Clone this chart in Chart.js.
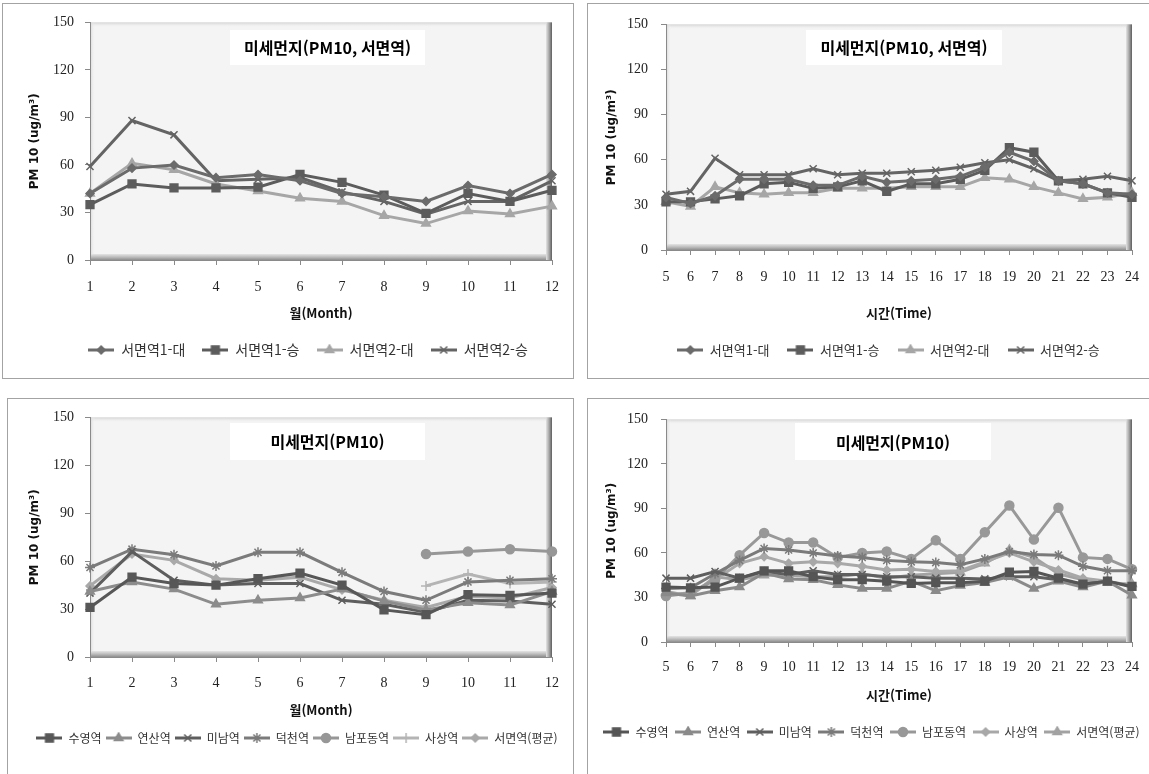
<!DOCTYPE html>
<html lang="ko">
<head>
<meta charset="utf-8">
<title>미세먼지(PM10)</title>
<script src="https://cdn.jsdelivr.net/npm/chart.js@4.4.1/dist/chart.umd.min.js"></script>
<style>
  html, body { margin: 0; padding: 0; background: #fff; width: 1149px; height: 774px; overflow: hidden; }
  .frame { position: absolute; border: 1px solid #a3a3a3; box-sizing: border-box; }
  canvas { position: absolute; }
</style>
</head>
<body>
<div class="frame" style="left:2px; top:3px; width:572px; height:376px"></div>
<div class="frame" style="left:587px; top:3px; width:600px; height:376px"></div>
<div class="frame" style="left:7px; top:398px; width:567px; height:400px"></div>
<div class="frame" style="left:587px; top:398px; width:600px; height:400px"></div>
<canvas id="monthSeomyeon"></canvas>
<canvas id="hourSeomyeon"></canvas>
<canvas id="monthStations"></canvas>
<canvas id="hourStations"></canvas>
<script>
// x축 (월, 시간) 과 y축 눈금
const months = ['1', '2', '3', '4', '5', '6', '7', '8', '9', '10', '11', '12'];
const hours = ['5', '6', '7', '8', '9', '10', '11', '12', '13', '14', '15', '16', '17', '18', '19', '20', '21', '22', '23', '24'];
const yTickValues = [0, 30, 60, 90, 120, 150];

// 서면역 측정지점 이름
const seomyeonPoints = ['서면역1-대', '서면역1-승', '서면역2-대', '서면역2-승'];

// 서면역 월별 PM10 (ug/m3)
const s1DaeMonth   = [42, 58, 60, 52, 54, 50, 42, 40, 37, 47, 42, 54];
const s1SeungMonth = [35, 48, 45.5, 45.5, 46, 54, 49, 41, 29.5, 42, 37, 44];
const s2DaeMonth   = [42, 61, 57, 48, 43.5, 39, 37, 28, 23, 31, 29, 34];
const s2SeungMonth = [59, 88, 79, 50, 51, 52, 43, 37, 29, 37, 37, 50];

// 서면역 시간대별 PM10
const s1DaeHour   = [35, 31, 36, 47, 47, 47, 43, 43, 49, 45, 46, 47, 49, 55, 65, 59, 46, 44, 38, 37];
const s1SeungHour = [32, 32, 34, 36, 44, 45, 41, 42, 46, 39, 44, 44, 47, 53, 68, 65, 46, 44, 38, 35];
const s2DaeHour   = [32, 29, 42, 38, 37, 38, 38, 41, 41, 41, 42, 42, 42, 48, 47, 42, 38, 34, 35, 38];
const s2SeungHour = [37, 39, 61, 50, 50, 50, 54, 50, 51, 51, 52, 53, 55, 58, 60, 54, 46, 47, 49, 46];

// 역별 이름
const stations = ['수영역', '연산역', '미남역', '덕천역', '남포동역', '사상역', '서면역(평균)'];

// 역별 월별 PM10 (남포동역, 사상역은 9월부터)
const suyeongMonth  = [31, 50, 46, 45, 49, 52.5, 45, 29.5, 26.5, 39, 38.5, 40];
const yeonsanMonth  = [41, 47, 42.5, 33, 35.5, 37, 42.5, 35, 29.5, 34, 32.5, 41];
const minamMonth    = [40, 66, 48, 45, 46, 46, 35.5, 33, 28, 35.5, 35, 33];
const deokcheonMonth = [56, 67.5, 64, 57, 65.5, 65.5, 53, 41, 35.5, 47, 48, 49];
const nampoMonth    = [null, null, null, null, null, null, null, null, 64.5, 66, 67.5, 66];
const sasangMonth   = [null, null, null, null, null, null, null, null, 44.5, 52, 46, 47];
const seomyeonAvgMonth = [44.5, 64.5, 60.5, 49, 48, 50, 42, 35.5, 31, 38, 37, 43.5];

// 역별 시간대별 PM10
const suyeongHour  = [37, 36.5, 37, 43, 48, 48, 44, 42, 42, 41, 39.5, 40, 40, 41, 47, 47.5, 43, 39, 41, 37.5];
const yeonsanHour  = [33, 31, 34.5, 37, 46.5, 42.5, 42, 38.5, 36, 36, 41, 34.5, 38, 40, 44, 36, 41, 37, 41, 31.5];
const minamHour    = [43, 43, 47.5, 43, 47.5, 45.5, 48, 45.5, 45.5, 44, 44, 43, 43, 42.5, 44, 44, 42, 39, 41, 37];
const deokcheonHour = [36, 36.5, 46, 55, 63, 62, 60, 58, 57, 55, 54, 53.5, 52, 56, 61, 59, 58.5, 51, 48, 48];
const nampoHour    = [31, 33, 42, 58.5, 73.5, 67, 67, 57, 60, 61, 56, 68.5, 56, 74, 92, 69, 90.5, 57, 56, 49];
const sasangHour   = [32, 33, 42, 53, 57.5, 53, 54, 53, 51, 48.5, 49, 47.5, 48, 54, 60, 54, 48.5, 43, 41, 38];
const seomyeonAvgHour = [34, 31, 44, 42, 45, 45, 44, 44, 46, 43, 45, 46, 47, 53, 62, 57, 46, 42, 40, 39];

// 계열 스타일
const seomyeonStyles = [
  { color: '#6b6b6b', point: 'rectRot', radius: 4 },
  { color: '#5c5c5c', point: 'rect', radius: 5.5 },
  { color: '#a6a6a6', point: 'triangle', radius: 5 },
  { color: '#646464', point: 'crossRot', radius: 5 }
];
const monthStationStyles = [
  { color: '#575757', point: 'rect', radius: 5.5 },
  { color: '#8c8c8c', point: 'triangle', radius: 5 },
  { color: '#5e5e5e', point: 'crossRot', radius: 5 },
  { color: '#7b7b7b', point: 'star', radius: 5 },
  { color: '#979797', point: 'circle', radius: 4.5 },
  { color: '#b4b4b4', point: 'cross', radius: 5 },
  { color: '#a9a9a9', point: 'rectRot', radius: 4 }
];
const hourStationStyles = [
  { color: '#555555', point: 'rect', radius: 5.5 },
  { color: '#8a8a8a', point: 'triangle', radius: 5 },
  { color: '#5f5f5f', point: 'crossRot', radius: 5 },
  { color: '#7a7a7a', point: 'star', radius: 5 },
  { color: '#989898', point: 'circle', radius: 4.5 },
  { color: '#a8a8a8', point: 'rectRot', radius: 4 },
  { color: '#a2a2a2', point: 'triangle', radius: 5 }
];

const KR = "'Noto Sans CJK KR', sans-serif";
const SERIF = "'Liberation Serif', serif";

// 범례용 선+마커 아이콘
function legendIcon(st) {
  const c = document.createElement('canvas');
  c.width = 26; c.height = 12;
  const g = c.getContext('2d');
  g.strokeStyle = st.color; g.fillStyle = st.color; g.lineWidth = 3;
  g.beginPath(); g.moveTo(0, 6); g.lineTo(26, 6); g.stroke();
  g.lineWidth = 1.5;
  Chart.helpers.drawPoint(g, { pointStyle: st.point, radius: st.radius, borderWidth: 1.5, rotation: 0 }, 13, 6);
  return c;
}

// 회색 입체 플롯 영역
const plotFrame = {
  id: 'plotFrame',
  beforeDraw(chart) {
    const { ctx, chartArea: a } = chart;
    const w = a.right - a.left, h = a.bottom - a.top;
    ctx.save();
    ctx.fillStyle = '#f4f4f4';
    ctx.fillRect(a.left, a.top, w, h);
    let g = ctx.createLinearGradient(0, a.top, 0, a.top + 5);
    g.addColorStop(0, '#d4d4d4'); g.addColorStop(1, 'rgba(244,244,244,0)');
    ctx.fillStyle = g; ctx.fillRect(a.left, a.top, w, 5);
    g = ctx.createLinearGradient(a.left, 0, a.left + 5, 0);
    g.addColorStop(0, '#d4d4d4'); g.addColorStop(1, 'rgba(244,244,244,0)');
    ctx.fillStyle = g; ctx.fillRect(a.left, a.top, 5, h);
    g = ctx.createLinearGradient(0, a.bottom - 6, 0, a.bottom);
    g.addColorStop(0, '#e4e4e4'); g.addColorStop(0.5, '#bdbdbd'); g.addColorStop(1, '#8e8e8e');
    ctx.fillStyle = g; ctx.fillRect(a.left, a.bottom - 6, w, 6);
    g = ctx.createLinearGradient(a.right - 6, 0, a.right, 0);
    g.addColorStop(0, '#e4e4e4'); g.addColorStop(0.5, '#a8a8a8'); g.addColorStop(1, '#5e5e5e');
    ctx.fillStyle = g; ctx.fillRect(a.right - 6, a.top, 6, h);
    ctx.restore();
  }
};

// 플롯 안의 흰 제목 상자
const titleBox = {
  id: 'titleBox',
  afterDatasetsDraw(chart, args, o) {
    const ctx = chart.ctx;
    ctx.save();
    ctx.fillStyle = '#ffffff';
    ctx.fillRect(o.x, o.y, o.w, o.h);
    ctx.fillStyle = '#000';
    ctx.font = "bold 16px " + KR;
    ctx.textAlign = 'center';
    ctx.textBaseline = 'middle';
    ctx.fillText(o.text, o.x + o.w / 2, o.textY);
    ctx.restore();
  }
};

function buildChart(id, spec) {
  const cv = document.getElementById(id);
  cv.width = spec.width; cv.height = spec.height;
  cv.style.left = spec.left + 'px'; cv.style.top = spec.top + 'px';

  const plotBottom = spec.plotBottom - spec.top;
  const yWidth = spec.plotLeft - spec.left;
  const rightGap = spec.width - (spec.plotRight - spec.left);
  const lf = spec.legendFontSize, lp = spec.legendPadding;
  const legendTop = spec.legendY - spec.top - lp - lf / 2;
  const legendHeight = lf + lp + 10;
  const xHeight = legendTop - plotBottom;
  const icons = spec.styles.map(legendIcon);

  const datasets = spec.series.map((data, i) => {
    const st = spec.styles[i];
    return {
      label: spec.names[i],
      data: data,
      borderColor: st.color,
      backgroundColor: st.color,
      borderWidth: 3,
      pointStyle: st.point,
      pointRadius: st.radius,
      pointBorderWidth: 1.5,
      pointBackgroundColor: st.color,
      pointBorderColor: st.color,
      tension: 0,
      spanGaps: false
    };
  });

  return new Chart(cv, {
    type: 'line',
    data: { labels: spec.labels, datasets: datasets },
    plugins: [plotFrame, titleBox],
    options: {
      responsive: false,
      animation: false,
      events: [],
      layout: {
        padding: { top: spec.plotTop - spec.top, left: 0, right: 0, bottom: spec.height - legendTop - legendHeight }
      },
      scales: {
        x: {
          type: 'category',
          offset: false,
          grid: { drawOnChartArea: false, tickLength: 5, color: '#8a8a8a' },
          border: { display: true, color: '#8a8a8a' },
          ticks: {
            color: '#222', autoSkip: false, maxRotation: 0,
            font: { family: SERIF, size: 14 },
            padding: (spec.xLabelY - spec.top) - plotBottom - 5 - 8.4
          },
          title: {
            display: true, text: spec.xTitle, color: '#111',
            font: { family: KR, size: 13, weight: 'bold' },
            padding: { top: 0, bottom: legendTop - (spec.xTitleY - spec.top) - 7.8 }
          },
          afterFit(s) { s.height = xHeight; }
        },
        y: {
          min: 0, max: 150,
          grid: { drawOnChartArea: false, tickLength: 5, color: '#8a8a8a' },
          border: { display: true, color: '#8a8a8a' },
          afterBuildTicks(s) { s.ticks = yTickValues.map(v => ({ value: v })); },
          ticks: {
            color: '#222',
            font: { family: SERIF, size: 14 },
            padding: spec.plotLeft - 5 - spec.yLabelRight
          },
          title: {
            display: true, text: 'PM 10 (ug/m³)', color: '#111',
            font: { family: "'DejaVu Sans', sans-serif", size: 12, weight: 'bold' },
            padding: { top: (spec.yTitleX - spec.left) - 7.2, bottom: 0 }
          },
          afterFit(s) { s.width = yWidth; }
        },
        gap: {
          type: 'linear', position: 'right', display: true,
          grid: { display: false }, border: { display: false }, ticks: { display: false },
          afterFit(s) { s.width = rightGap; }
        }
      },
      plugins: {
        legend: {
          position: 'bottom',
          labels: {
            usePointStyle: true,
            pointStyleWidth: 26,
            padding: lp,
            color: '#333',
            font: { family: KR, size: lf },
            generateLabels: chart => chart.data.datasets.map((ds, i) => ({
              text: ds.label, pointStyle: icons[i], fillStyle: ds.borderColor,
              strokeStyle: ds.borderColor, lineWidth: 0, hidden: false, datasetIndex: i, fontColor: '#333'
            }))
          }
        },
        tooltip: { enabled: false },
        titleBox: {
          text: spec.title,
          x: spec.box.x - spec.left, y: spec.box.y - spec.top, w: spec.box.w, h: spec.box.h,
          textY: spec.box.textY - spec.top
        }
      }
    }
  });
}

buildChart('monthSeomyeon', {
  left: 2, top: 3, width: 612, height: 375,
  plotLeft: 90, plotRight: 552, plotTop: 19, plotBottom: 260,
  yLabelRight: 74, yTitleX: 35, xLabelY: 287, xTitleY: 313, legendY: 350,
  legendFontSize: 14, legendPadding: 17,
  box: { x: 230, y: 30, w: 195, h: 35, textY: 48 },
  title: '미세먼지(PM10, 서면역)', xTitle: '월(Month)',
  labels: months, names: seomyeonPoints, styles: seomyeonStyles,
  series: [s1DaeMonth, s1SeungMonth, s2DaeMonth, s2SeungMonth]
});

buildChart('hourSeomyeon', {
  left: 587, top: 3, width: 603, height: 375,
  plotLeft: 666, plotRight: 1132, plotTop: 19, plotBottom: 250,
  yLabelRight: 648, yTitleX: 612, xLabelY: 277, xTitleY: 313, legendY: 350,
  legendFontSize: 13, legendPadding: 18,
  box: { x: 806, y: 30, w: 196, h: 35, textY: 48 },
  title: '미세먼지(PM10, 서면역)', xTitle: '시간(Time)',
  labels: hours, names: seomyeonPoints, styles: seomyeonStyles,
  series: [s1DaeHour, s1SeungHour, s2DaeHour, s2SeungHour]
});

buildChart('monthStations', {
  left: 7, top: 398, width: 580, height: 376,
  plotLeft: 90, plotRight: 552, plotTop: 415, plotBottom: 657,
  yLabelRight: 74, yTitleX: 35, xLabelY: 683, xTitleY: 710, legendY: 738,
  legendFontSize: 12, legendPadding: 4,
  box: { x: 230, y: 423, w: 195, h: 37, textY: 442 },
  title: '미세먼지(PM10)', xTitle: '월(Month)',
  labels: months, names: stations, styles: monthStationStyles,
  series: [suyeongMonth, yeonsanMonth, minamMonth, deokcheonMonth, nampoMonth, sasangMonth, seomyeonAvgMonth]
});

buildChart('hourStations', {
  left: 575, top: 398, width: 593, height: 376,
  plotLeft: 666, plotRight: 1132, plotTop: 415, plotBottom: 642,
  yLabelRight: 648, yTitleX: 612, xLabelY: 667, xTitleY: 695, legendY: 732,
  legendFontSize: 12, legendPadding: 6.5,
  box: { x: 795, y: 423, w: 196, h: 37, textY: 443 },
  title: '미세먼지(PM10)', xTitle: '시간(Time)',
  labels: hours, names: stations, styles: hourStationStyles,
  series: [suyeongHour, yeonsanHour, minamHour, deokcheonHour, nampoHour, sasangHour, seomyeonAvgHour]
});
</script>
</body>
</html>
